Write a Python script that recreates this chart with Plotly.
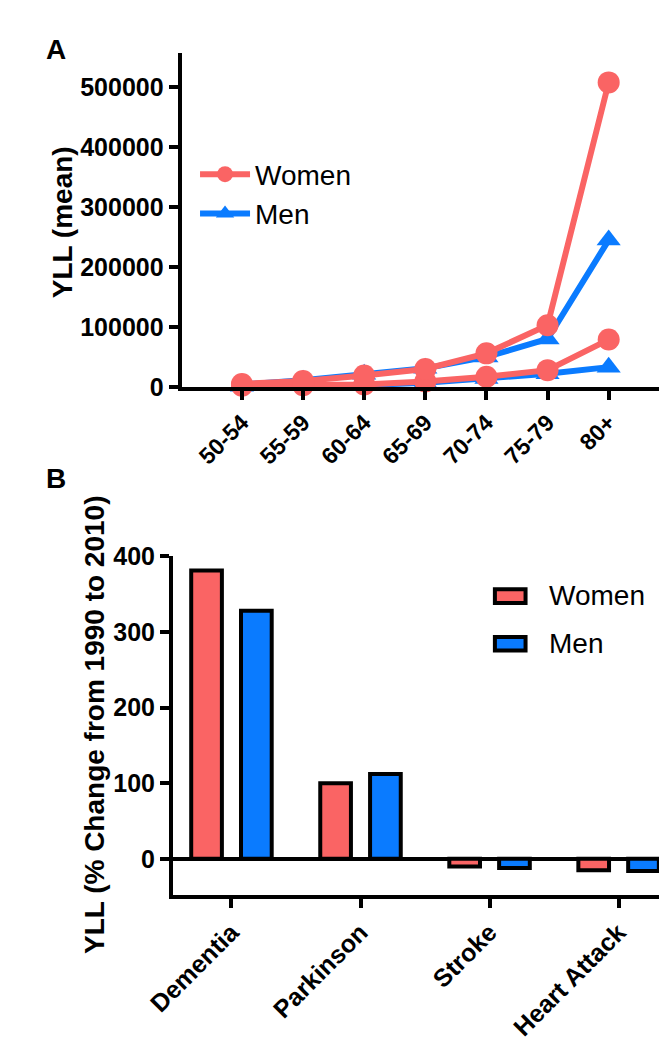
import plotly.graph_objects as go

# ---------------- data ----------------
age_groups = ["50-54", "55-59", "60-64", "65-69", "70-74", "75-79", "80+"]
women_2010 = [5000, 10000, 19000, 30000, 56000, 103000, 508000]
women_1990 = [2000, 3000, 4000, 9000, 17000, 28000, 79000]
men_2010 = [4000, 11000, 21000, 31000, 50000, 80000, 245000]
men_1990 = [1000, 2000, 3000, 7000, 14000, 22000, 33000]

diseases = ["Dementia", "Parkinson", "Stroke", "Heart Attack"]
women_change = [381, 100, -10, -15]
men_change = [328, 112, -12, -16]

a_yticks = [0, 100000, 200000, 300000, 400000, 500000]
b_yticks = [0, 100, 200, 300, 400]

RED = "#FA6464"
BLUE = "#0A7BFF"
FONT = "Liberation Sans"
W, H = 667, 1041

fig = go.Figure()

# Panel A lines (men underneath, women on top)
for vals, show in [(men_2010, True), (men_1990, False)]:
    fig.add_trace(go.Scatter(
        x=age_groups, y=vals, mode="lines+markers", name="Men",
        line=dict(color=BLUE, width=6),
        marker=dict(symbol="triangle-up", size=21, color=BLUE),
        showlegend=show, legendgroup="men", legendrank=2,
        cliponaxis=False, xaxis="x", yaxis="y"))
for vals, show in [(women_1990, False), (women_2010, True)]:
    fig.add_trace(go.Scatter(
        x=age_groups, y=vals, mode="lines+markers", name="Women",
        line=dict(color=RED, width=6),
        marker=dict(symbol="circle", size=22, color=RED),
        showlegend=show, legendgroup="women", legendrank=1,
        cliponaxis=False, xaxis="x", yaxis="y"))

# Panel B bars
fig.add_trace(go.Bar(x=diseases, y=women_change, name="Women",
                     marker=dict(color=RED, line=dict(color="black", width=4)),
                     showlegend=False, xaxis="x2", yaxis="y2"))
fig.add_trace(go.Bar(x=diseases, y=men_change, name="Men",
                     marker=dict(color=BLUE, line=dict(color="black", width=4)),
                     showlegend=False, xaxis="x2", yaxis="y2"))


def px_x(p):
    return p / W


def px_y(p):
    return 1 - p / H


def tfont(size):
    return dict(family=FONT, size=size, color="black", weight="bold")


axis_common = dict(showline=True, linecolor="black", linewidth=4,
                   ticks="outside", ticklen=9, tickwidth=4, tickcolor="black",
                   showgrid=False, zeroline=False)

fig.update_layout(
    width=W, height=H,
    margin=dict(l=0, r=0, t=0, b=0),
    paper_bgcolor="white", plot_bgcolor="white",
    barmode="group", bargap=0.228, bargroupgap=0.384,
    font=dict(family=FONT, color="black"),
    xaxis=dict(domain=[px_x(152), 1], anchor="y", type="category",
               range=[-0.987, 7.085], tickangle=-45, tickfont=tfont(23),
               **axis_common),
    yaxis=dict(domain=[px_y(375), px_y(32)], anchor="x",
               range=[0, 556800], tickvals=a_yticks, tickformat="d",
               tickfont=tfont(25), **axis_common),
    xaxis2=dict(domain=[px_x(143), 1], anchor="y2", type="category",
                range=[-0.453, 3.437], tickangle=-45, tickfont=tfont(25),
                **axis_common),
    yaxis2=dict(domain=[px_y(897), px_y(549)], anchor="x2",
                range=[-47.6, 400], tickvals=b_yticks, tickfont=tfont(25),
                **{**axis_common, "zeroline": True, "zerolinecolor": "black",
                   "zerolinewidth": 4}),
    legend=dict(x=px_x(166), y=px_y(131), xanchor="left", yanchor="top",
                bgcolor="rgba(0,0,0,0)", itemwidth=50,
                font=dict(family=FONT, size=28, color="black"),
                traceorder="normal", tracegroupgap=0),
    showlegend=True,
)

annotations = [
    dict(text="<b>A</b>", x=px_x(21), y=px_y(28), xanchor="center", yanchor="middle",
         font=dict(size=28, family=FONT, color="black")),
    dict(text="<b>B</b>", x=px_x(21), y=px_y(469), xanchor="center", yanchor="middle",
         font=dict(size=28, family=FONT, color="black")),
    dict(text="<b>YLL (mean)</b>", x=px_x(28), y=px_y(206), textangle=-90,
         xanchor="center", yanchor="middle",
         font=dict(size=28, family=FONT, color="black")),
    dict(text="<b>YLL (% Change from 1990 to 2010)</b>", x=px_x(61), y=px_y(722),
         textangle=-90, xanchor="center", yanchor="middle",
         font=dict(size=28, family=FONT, color="black")),
]

# Panel B legend (custom swatches)
shapes = []
legend_b = [("Women", RED, 581, 599, 589), ("Men", BLUE, 630, 648, 639)]
for label, color, top, bottom, yc in legend_b:
    shapes.append(dict(type="rect", xref="paper", yref="paper",
                       x0=px_x(479), x1=px_x(511), y0=px_y(bottom - 2), y1=px_y(top + 2),
                       fillcolor=color, line=dict(color="black", width=4)))
    annotations.append(dict(text=label, x=px_x(533), y=px_y(yc), xanchor="left",
                            yanchor="middle",
                            font=dict(size=28, family=FONT, color="black")))

for a in annotations:
    a.setdefault("xref", "paper")
    a.setdefault("yref", "paper")
    a.setdefault("showarrow", False)

fig.update_layout(annotations=annotations, shapes=shapes)

fig.write_html("out.html")
